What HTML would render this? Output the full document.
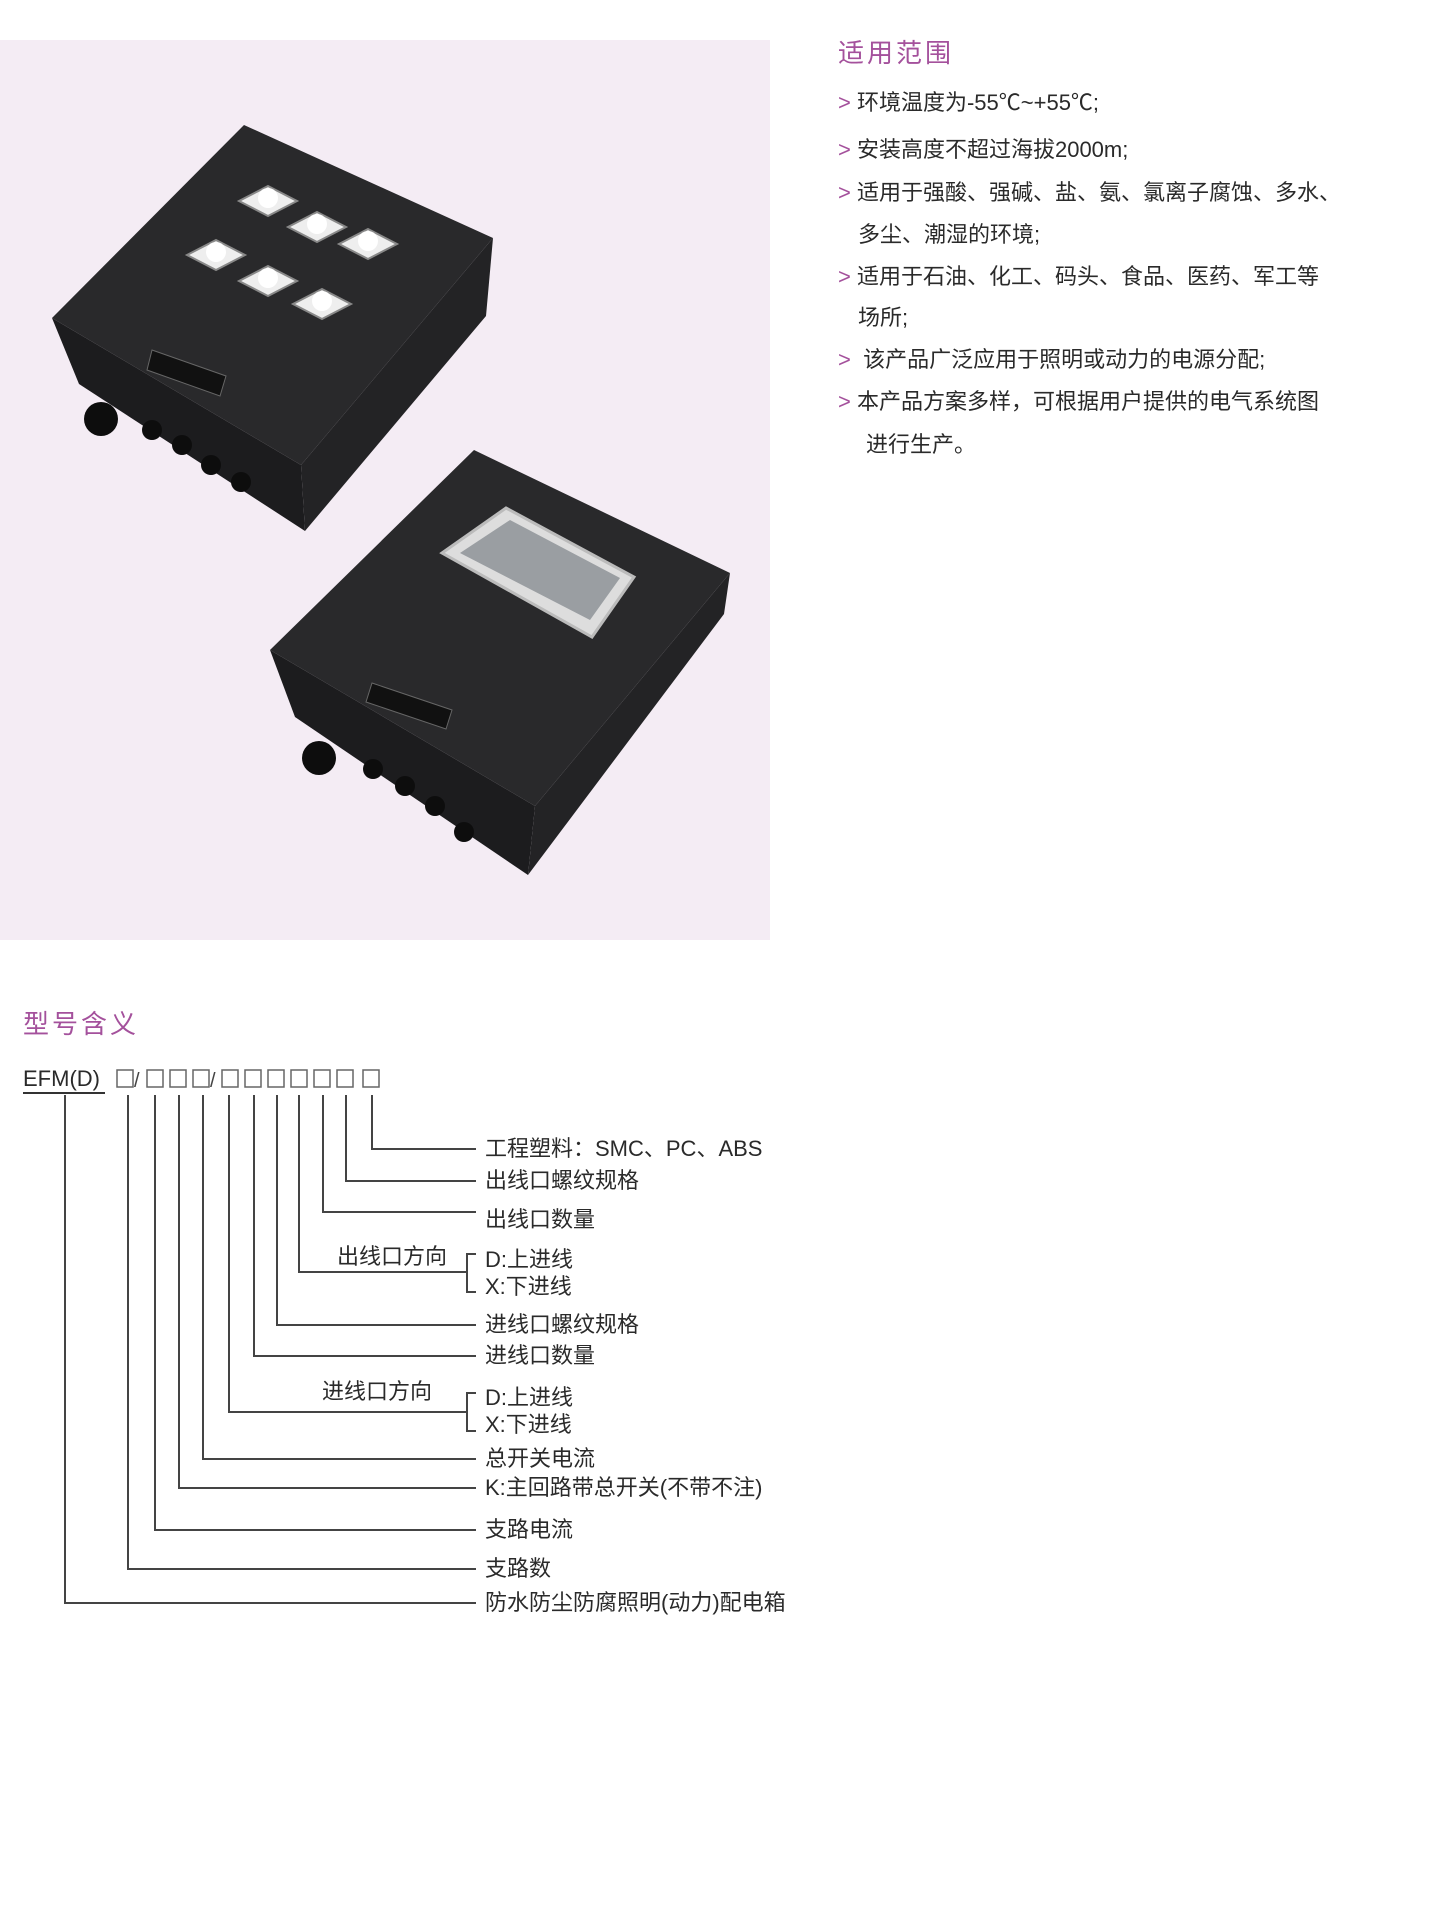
<!DOCTYPE html>
<html><head><meta charset="utf-8"><style>
html,body{margin:0;padding:0;background:#fff;}
body{width:1443px;height:1913px;position:relative;overflow:hidden;font-family:"Liberation Sans","Noto Sans CJK SC",sans-serif;color:#2a2a2a;}
.t{position:absolute;white-space:nowrap;line-height:26px;height:26px;font-size:22px;}
.p{color:#a4519c;}
.lab{position:absolute;white-space:nowrap;font-size:22px;line-height:26px;}
</style></head><body>
<div style="position:absolute;left:0;top:40px;width:770px;height:900px;background:#f4ecf4;"></div>
<svg style="position:absolute;left:0;top:0" width="770" height="960">
<g>
<polygon points="52,318 301,465 305,531 79,384" fill="#1c1c1e"/>
<polygon points="301,465 493,238 486,316 305,531" fill="#232325"/>
<polygon points="244,125 493,238 301,465 52,318" fill="#29292b"/>
<g fill="#eee" stroke="#888" stroke-width="2">
<polygon points="268,186 297,201 268,216 239,201"/>
<polygon points="317,212 346,227 317,242 288,227"/>
<polygon points="368,229 397,244 368,259 339,244"/>
<polygon points="216,240 245,255 216,270 187,255"/>
<polygon points="268,266 297,281 268,296 239,281"/>
<polygon points="322,289 351,304 322,319 293,304"/>
</g>
<g fill="#fff"><circle cx="268" cy="198" r="10"/><circle cx="317" cy="224" r="10"/><circle cx="368" cy="241" r="10"/><circle cx="216" cy="252" r="10"/><circle cx="268" cy="278" r="10"/><circle cx="322" cy="301" r="10"/></g>
<polygon points="152,350 226,376 220,396 147,370" fill="#111" stroke="#666"/>
<g fill="#0d0d0d"><circle cx="101" cy="419" r="17"/><circle cx="152" cy="430" r="10"/><circle cx="182" cy="445" r="10"/><circle cx="211" cy="465" r="10"/><circle cx="241" cy="482" r="10"/></g>
</g>
<g>
<polygon points="270,650 535,806 528,875 295,717" fill="#1c1c1e"/>
<polygon points="535,806 730,573 724,614 528,875" fill="#232325"/>
<polygon points="474,450 730,573 535,806 270,650" fill="#29292b"/>
<polygon points="506,508 634,577 592,637 442,553" fill="#ddd" stroke="#bbb" stroke-width="3"/>
<polygon points="510,520 620,578 590,620 460,553" fill="#9a9ea2"/>
<polygon points="372,683 452,710 446,729 366,702" fill="#111" stroke="#666"/>
<g fill="#0d0d0d"><circle cx="319" cy="758" r="17"/><circle cx="373" cy="769" r="10"/><circle cx="405" cy="786" r="10"/><circle cx="435" cy="806" r="10"/><circle cx="464" cy="832" r="10"/></g>
</g>
</svg>

<div class="t p" style="left:838px;top:38px;font-size:26px;line-height:30px;height:30px;letter-spacing:3px;">适用范围</div>
<div class="t" style="left:838px;top:90px;"><span class="p">&gt;</span> 环境温度为-55℃~+55℃;</div>
<div class="t" style="left:838px;top:137px;"><span class="p">&gt;</span> 安装高度不超过海拔2000m;</div>
<div class="t" style="left:838px;top:180px;"><span class="p">&gt;</span> 适用于强酸、强碱、盐、氨、氯离子腐蚀、多水、</div>
<div class="t" style="left:858px;top:222px;">多尘、潮湿的环境;</div>
<div class="t" style="left:838px;top:264px;"><span class="p">&gt;</span> 适用于石油、化工、码头、食品、医药、军工等</div>
<div class="t" style="left:858px;top:305px;">场所;</div>
<div class="t" style="left:838px;top:347px;"><span class="p">&gt;</span>&nbsp; 该产品广泛应用于照明或动力的电源分配;</div>
<div class="t" style="left:838px;top:389px;"><span class="p">&gt;</span> 本产品方案多样，可根据用户提供的电气系统图</div>
<div class="t" style="left:866px;top:432px;">进行生产。</div>

<div class="t p" style="left:23px;top:1008px;font-size:26px;line-height:32px;height:32px;letter-spacing:3px;">型号含义</div>
<div class="t" style="left:23px;top:1066px;font-size:22px;">EFM(D)</div>
<div style="position:absolute;left:23px;top:1092px;width:82px;height:2px;background:#333"></div>
<svg style="position:absolute;left:0;top:1060px" width="400" height="40">
<g fill="none" stroke="#666" stroke-width="1.5">
<rect x="117" y="10" width="16" height="17"/>
<rect x="147" y="10" width="16" height="17"/><rect x="170" y="10" width="16" height="17"/><rect x="193" y="10" width="16" height="17"/>
<rect x="222" y="10" width="16" height="17"/><rect x="245" y="10" width="16" height="17"/><rect x="268" y="10" width="16" height="17"/><rect x="291" y="10" width="16" height="17"/><rect x="314" y="10" width="16" height="17"/><rect x="337" y="10" width="16" height="17"/><rect x="363" y="10" width="16" height="17"/>
</g>
<text x="134" y="27" font-size="20" fill="#444" font-family="Liberation Sans">/</text>
<text x="210" y="27" font-size="20" fill="#444" font-family="Liberation Sans">/</text>
</svg>

<svg style="position:absolute;left:0;top:0" width="800" height="1913">
<g fill="none" stroke="#444" stroke-width="2">
<polyline points="372,1095 372,1149 476,1149"/>
<polyline points="346,1095 346,1181 476,1181"/>
<polyline points="323,1095 323,1212 476,1212"/>
<polyline points="299,1095 299,1272 467,1272"/>
<polyline points="476,1254 467,1254 467,1292 476,1292"/>
<polyline points="277,1095 277,1325 476,1325"/>
<polyline points="254,1095 254,1356 476,1356"/>
<polyline points="229,1095 229,1412 467,1412"/>
<polyline points="476,1393 467,1393 467,1431 476,1431"/>
<polyline points="203,1095 203,1459 476,1459"/>
<polyline points="179,1095 179,1488 476,1488"/>
<polyline points="155,1095 155,1530 476,1530"/>
<polyline points="128,1095 128,1569 476,1569"/>
<polyline points="65,1095 65,1603 476,1603"/>
</g>
</svg>
<div class="lab" style="left:485px;top:1136px;">工程塑料：SMC、PC、ABS</div>
<div class="lab" style="left:485px;top:1168px;">出线口螺纹规格</div>
<div class="lab" style="left:485px;top:1207px;">出线口数量</div>
<div class="lab" style="left:337px;top:1244px;">出线口方向</div>
<div class="lab" style="left:485px;top:1247px;">D:上进线</div>
<div class="lab" style="left:485px;top:1274px;">X:下进线</div>
<div class="lab" style="left:485px;top:1312px;">进线口螺纹规格</div>
<div class="lab" style="left:485px;top:1343px;">进线口数量</div>
<div class="lab" style="left:322px;top:1379px;">进线口方向</div>
<div class="lab" style="left:485px;top:1385px;">D:上进线</div>
<div class="lab" style="left:485px;top:1412px;">X:下进线</div>
<div class="lab" style="left:485px;top:1446px;">总开关电流</div>
<div class="lab" style="left:485px;top:1475px;">K:主回路带总开关(不带不注)</div>
<div class="lab" style="left:485px;top:1517px;">支路电流</div>
<div class="lab" style="left:485px;top:1556px;">支路数</div>
<div class="lab" style="left:485px;top:1590px;">防水防尘防腐照明(动力)配电箱</div>
</body></html>
